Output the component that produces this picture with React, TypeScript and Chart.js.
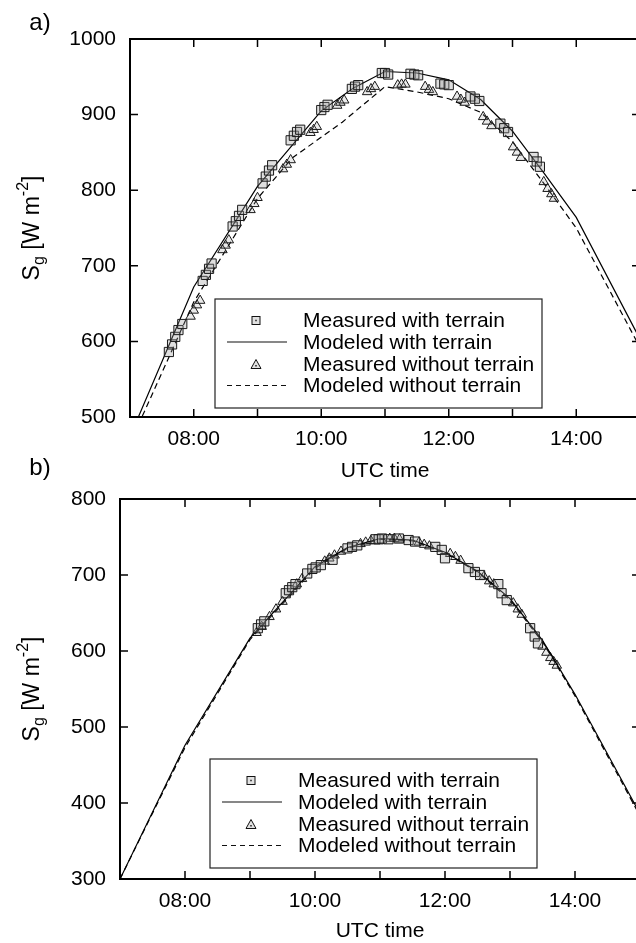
import React, { useEffect, useRef } from 'react';
import { Chart, registerables } from 'chart.js';
Chart.register(...registerables);

const FONT = '"Liberation Sans", Arial, Helvetica, sans-serif';

// ---------- Panel a) ----------
const modelTimesA = [7, 8, 9, 10, 10.5, 11, 11.5, 12, 12.5, 13, 13.5, 14, 15];
const modelWithA = [474, 672, 805, 905, 935, 957, 955, 946, 920, 878, 822, 764, 603];
const modelWithoutTimesA = [7, 8, 9, 9.55, 10.33, 11, 11.5, 12, 12.5, 13, 13.5, 14, 15];
const modelWithoutA = [465, 652, 789, 843, 890, 937, 930, 921, 903, 864, 808, 750, 592];

const measWithTimesA = [7.61, 7.66, 7.71, 7.76, 7.82, 8.14, 8.19, 8.24, 8.28, 8.61, 8.66, 8.71, 8.76, 9.08, 9.13, 9.18, 9.23, 9.52, 9.57, 9.62, 9.67, 10.0, 10.05, 10.1, 10.48, 10.53, 10.58, 10.95, 11.0, 11.05, 11.4, 11.46, 11.52, 11.87, 11.93, 12.0, 12.34, 12.41, 12.48, 12.81, 12.87, 12.93, 13.33, 13.38, 13.43];
const measWithA = [586, 596, 606, 615, 623, 680, 688, 696, 703, 752, 759, 766, 774, 809, 818, 826, 833, 866, 872, 877, 880, 906, 910, 913, 934, 937, 939, 955, 955, 953, 954, 953, 952, 941, 940, 939, 924, 921, 918, 888, 882, 877, 844, 838, 831];

const measWithoutTimesA = [7.95, 8.0, 8.05, 8.1, 8.45, 8.5, 8.55, 8.89, 8.95, 9.0, 9.4, 9.46, 9.52, 9.83, 9.88, 9.93, 10.25, 10.3, 10.36, 10.72, 10.78, 10.84, 11.2, 11.26, 11.32, 11.63, 11.69, 11.75, 12.13, 12.19, 12.25, 12.54, 12.6, 12.67, 13.01, 13.07, 13.13, 13.49, 13.55, 13.61, 13.65];
const measWithoutA = [633, 641, 648, 654, 721, 727, 734, 774, 782, 790, 828, 834, 840, 876, 880, 884, 912, 916, 919, 930, 934, 937, 939, 940, 940, 937, 933, 930, 924, 920, 916, 897, 891, 885, 857, 850, 843, 811, 802, 795, 789];

// ---------- Panel b) ----------
const modelTimesB = [7, 8, 9, 10, 10.5, 11, 11.5, 12, 12.5, 13, 13.5, 14, 15];
const modelWithB = [300, 476, 617, 711, 736, 748, 746, 730, 705, 669, 614, 543, 386];
const modelWithoutB = [300, 473, 615, 709, 735, 747, 745, 729, 704, 667, 612, 541, 383];

const measWithTimesB = [9.12, 9.17, 9.22, 9.55, 9.6, 9.65, 9.7, 9.88, 9.96, 10.01, 10.09, 10.27, 10.5, 10.57, 10.65, 10.93, 10.98, 11.03, 11.13, 11.29, 11.44, 11.54, 11.85, 11.95, 12.0, 12.36, 12.46, 12.54, 12.82, 12.87, 12.95, 13.31, 13.38, 13.43];
const measWithB = [630, 635, 639, 676, 680, 684, 688, 702, 708, 710, 713, 720, 735, 737, 739, 747, 747, 748, 747, 748, 746, 744, 737, 733, 722, 709, 704, 700, 688, 676, 667, 630, 619, 610];

const measWithoutTimesB = [9.1, 9.18, 9.3, 9.4, 9.5, 9.72, 9.8, 10.15, 10.22, 10.3, 10.4, 10.7, 10.78, 10.86, 11.15, 11.22, 11.3, 11.6, 11.68, 11.76, 12.08, 12.16, 12.24, 12.6, 12.68, 12.75, 13.05, 13.12, 13.18, 13.5, 13.56, 13.62, 13.67, 13.72];
const measWithoutB = [624, 632, 645, 655, 665, 688, 695, 718, 722, 726, 731, 741, 743, 745, 748, 748, 747, 743, 740, 738, 728, 724, 719, 698, 692, 688, 663, 655, 648, 606, 598, 591, 586, 581];

const legendLabels = ['Measured with terrain', 'Modeled with terrain', 'Measured without terrain', 'Modeled without terrain'];
const xTickHours = [8, 10, 12, 14];

const zip = (xs: number[], ys: number[]) => xs.map((x, i) => ({ x, y: ys[i] }));
const pad2 = (n: number) => (n < 10 ? '0' + n : '' + n);

type PanelCfg = {
  tag: string;
  tagY: number;
  canvasH: number;
  padTop: number;
  padRight: number;
  yW: number;
  xH: number;
  yMin: number;
  yMax: number;
  legLeft: number;
  legBottom: number;
  mT: number[];
  mWith: number[];
  mTw: number[];
  mWithout: number[];
  sqT: number[];
  sqV: number[];
  trT: number[];
  trV: number[];
};

function drawYTitle(ctx: CanvasRenderingContext2D, cx: number, cy: number) {
  const main = `23px ${FONT}`;
  const small = `16px ${FONT}`;
  const segs: [string, string, number][] = [
    ['S', main, 0],
    ['g', small, 7],
    [' [W m', main, 0],
    ['-2', small, -9],
    [']', main, 0],
  ];
  ctx.save();
  ctx.translate(cx, cy);
  ctx.rotate(-Math.PI / 2);
  ctx.fillStyle = '#000';
  ctx.textBaseline = 'middle';
  ctx.textAlign = 'left';
  let total = 0;
  for (const [t, f] of segs) {
    ctx.font = f;
    total += ctx.measureText(t).width;
  }
  let x = -total / 2;
  for (const [t, f, dy] of segs) {
    ctx.font = f;
    ctx.fillText(t, x, dy);
    x += ctx.measureText(t).width;
  }
  ctx.restore();
}

function makePlugin(p: PanelCfg) {
  return {
    id: 'decor' + p.tag.replace(')', ''),
    afterDraw(chart: any) {
      const ctx: CanvasRenderingContext2D = chart.ctx;
      const { left, right, top, bottom } = chart.chartArea;
      const xs = chart.scales.x;
      const ys = chart.scales.y;
      ctx.save();
      ctx.strokeStyle = '#000';
      ctx.lineWidth = 1.5;
      ctx.beginPath();
      for (const t of xs.ticks) {
        const px = xs.getPixelForValue(t.value);
        if (px <= left + 1 || px >= right - 1) continue;
        ctx.moveTo(px, bottom);
        ctx.lineTo(px, bottom - 8);
        ctx.moveTo(px, top);
        ctx.lineTo(px, top + 8);
      }
      for (const t of ys.ticks) {
        const py = ys.getPixelForValue(t.value);
        if (py <= top + 1 || py >= bottom - 1) continue;
        ctx.moveTo(left, py);
        ctx.lineTo(left + 8, py);
        ctx.moveTo(right, py);
        ctx.lineTo(right - 8, py);
      }
      ctx.stroke();
      ctx.lineWidth = 2;
      ctx.strokeRect(left, top, right - left, bottom - top);

      // legend
      const lw = 327, lh = 109;
      const bx = left + p.legLeft;
      const by = bottom - p.legBottom - lh;
      ctx.fillStyle = '#fff';
      ctx.fillRect(bx, by, lw, lh);
      ctx.lineWidth = 1.2;
      ctx.strokeStyle = '#222';
      ctx.strokeRect(bx, by, lw, lh);
      const rows = [21.5, 43, 65.5, 86.5];
      const sx = bx + 41;
      ctx.font = `21px ${FONT}`;
      ctx.textBaseline = 'middle';
      ctx.textAlign = 'left';
      rows.forEach((ry, i) => {
        const yy = by + ry;
        ctx.strokeStyle = '#111';
        ctx.lineWidth = 1;
        ctx.setLineDash([]);
        if (i === 0) {
          ctx.fillStyle = 'rgba(170,170,170,0.35)';
          ctx.fillRect(sx - 4, yy - 4, 8, 8);
          ctx.strokeRect(sx - 4, yy - 4, 8, 8);
          ctx.fillStyle = '#222';
          ctx.fillRect(sx - 0.75, yy - 0.75, 1.5, 1.5);
        } else if (i === 2) {
          ctx.beginPath();
          ctx.moveTo(sx, yy - 5);
          ctx.lineTo(sx + 5, yy + 4);
          ctx.lineTo(sx - 5, yy + 4);
          ctx.closePath();
          ctx.fillStyle = 'rgba(170,170,170,0.35)';
          ctx.fill();
          ctx.stroke();
          ctx.fillStyle = '#222';
          ctx.fillRect(sx - 0.75, yy + 0.5, 1.5, 1.5);
        } else {
          ctx.beginPath();
          if (i === 3) ctx.setLineDash([5, 4]);
          ctx.lineWidth = 1.2;
          ctx.moveTo(bx + 12, yy);
          ctx.lineTo(bx + 72, yy);
          ctx.stroke();
          ctx.setLineDash([]);
        }
        ctx.fillStyle = '#000';
        ctx.fillText(legendLabels[i], bx + 88, yy + 1);
      });

      // panel tag and y title
      ctx.font = `24px ${FONT}`;
      ctx.textAlign = 'center';
      ctx.textBaseline = 'middle';
      ctx.fillStyle = '#000';
      ctx.fillText(p.tag, 40, p.tagY);
      drawYTitle(ctx, 33, (top + bottom) / 2);
      ctx.restore();
    },
  };
}

function buildConfig(p: PanelCfg): any {
  const tickFont = { family: FONT, size: 21 };
  return {
    type: 'scatter',
    data: {
      datasets: [
        {
          label: legendLabels[0],
          data: zip(p.sqT, p.sqV),
          showLine: false,
          pointStyle: 'rect',
          pointRadius: 6.5,
          borderWidth: 1,
          borderColor: '#1a1a1a',
          backgroundColor: 'rgba(150,150,150,0.3)',
        },
        {
          label: legendLabels[1],
          data: zip(p.mT, p.mWith),
          showLine: true,
          pointRadius: 0,
          borderWidth: 1.2,
          borderColor: '#000',
          fill: false,
        },
        {
          label: legendLabels[2],
          data: zip(p.trT, p.trV),
          showLine: false,
          pointStyle: 'triangle',
          pointRadius: 5.5,
          borderWidth: 1,
          borderColor: '#1a1a1a',
          backgroundColor: 'rgba(150,150,150,0.2)',
        },
        {
          label: legendLabels[3],
          data: zip(p.mTw, p.mWithout),
          showLine: true,
          pointRadius: 0,
          borderWidth: 1.2,
          borderColor: '#000',
          borderDash: [6, 4],
          fill: false,
        },
      ],
    },
    options: {
      responsive: false,
      animation: false,
      events: [],
      layout: { padding: { left: 0, top: p.padTop, right: p.padRight, bottom: 0 } },
      plugins: { legend: { display: false }, tooltip: { enabled: false } },
      scales: {
        x: {
          type: 'linear',
          min: 7,
          max: 15,
          grid: { display: false, drawTicks: false },
          border: { display: false },
          ticks: {
            stepSize: 1,
            autoSkip: false,
            maxRotation: 0,
            padding: 10,
            color: '#000',
            font: tickFont,
            callback: (v: number) => (xTickHours.includes(v) ? pad2(v) + ':00' : ''),
          },
          title: {
            display: true,
            text: 'UTC time',
            color: '#000',
            font: { family: FONT, size: 21 },
            padding: { top: 0, bottom: 6 },
          },
          afterFit: (s: any) => {
            s.height = p.xH;
          },
        },
        y: {
          type: 'linear',
          min: p.yMin,
          max: p.yMax,
          grid: { display: false, drawTicks: false },
          border: { display: false },
          ticks: {
            stepSize: 100,
            padding: 14,
            color: '#000',
            font: tickFont,
            callback: (v: number) => String(v),
          },
          afterFit: (s: any) => {
            s.width = p.yW;
          },
        },
      },
    },
    plugins: [makePlugin(p)],
  };
}

const panelA: PanelCfg = {
  tag: 'a)',
  tagY: 23,
  canvasH: 490,
  padTop: 39,
  padRight: 10,
  yW: 130,
  xH: 490 - 417,
  yMin: 500,
  yMax: 1000,
  legLeft: 85,
  legBottom: 9,
  mT: modelTimesA,
  mWith: modelWithA,
  mTw: modelWithoutTimesA,
  mWithout: modelWithoutA,
  sqT: measWithTimesA,
  sqV: measWithA,
  trT: measWithoutTimesA,
  trV: measWithoutA,
};

const panelB: PanelCfg = {
  tag: 'b)',
  tagY: 23,
  canvasH: 505,
  padTop: 54,
  padRight: 8,
  yW: 120,
  xH: 505 - 434,
  yMin: 300,
  yMax: 800,
  legLeft: 90,
  legBottom: 11,
  mT: modelTimesB,
  mWith: modelWithB,
  mTw: modelTimesB,
  mWithout: modelWithoutB,
  sqT: measWithTimesB,
  sqV: measWithB,
  trT: measWithoutTimesB,
  trV: measWithoutB,
};

function Panel({ cfg, top }: { cfg: PanelCfg; top: number }) {
  const ref = useRef<HTMLCanvasElement>(null);
  useEffect(() => {
    const chart = new Chart(ref.current as HTMLCanvasElement, buildConfig(cfg));
    return () => chart.destroy();
  }, [cfg]);
  return (
    <canvas
      ref={ref}
      width={650}
      height={cfg.canvasH}
      style={{ position: 'absolute', left: 0, top, width: 650, height: cfg.canvasH }}
    />
  );
}

export default function App() {
  return (
    <div
      style={{
        position: 'absolute',
        left: 0,
        top: 0,
        width: 636,
        height: 943,
        overflow: 'hidden',
        background: '#fff',
      }}
    >
      <Panel cfg={panelA} top={0} />
      <Panel cfg={panelB} top={445} />
    </div>
  );
}
